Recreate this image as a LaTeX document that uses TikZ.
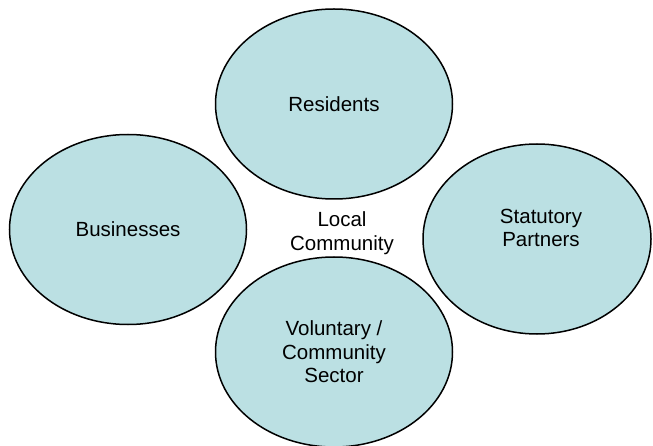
\documentclass[tikz,border=0pt]{standalone}
\usepackage{fontspec}
\setmainfont{Liberation Sans}
\usepackage{tikz}
\usetikzlibrary{shapes,positioning}
\definecolor{ellblue}{RGB}{187,224,227}

\begin{document}
\begin{tikzpicture}[
    x=1pt, y=-1pt,
    group/.style={ellipse, draw, line width=1.5pt, fill=ellblue, inner sep=0pt, align=center, minimum width=237pt, minimum height=190pt, font=\fontsize{20.5}{23.5}\selectfont},
    txt/.style={align=center, font=\fontsize{20.5}{23.5}\selectfont}
]
    \useasboundingbox (0,0) rectangle (653,446);
    \node[group] (res) at (334,104) {Residents};
    \node[group] (bus) at (128,229.5) {Businesses};
    \node[group, minimum width=228pt] (stat) at (537,239) {};
    \node[txt] (stattxt) at ([xshift=4pt, yshift=11pt]stat.center) {Statutory\\Partners};
    \node[group] (vol) at (334,352) {Voluntary /\\Community\\Sector};
    \node[txt] (lc) at (342,233) {Local\\Community};
\end{tikzpicture}
\end{document}
